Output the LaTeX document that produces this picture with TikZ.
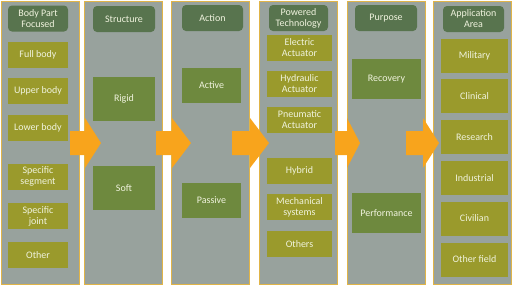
\documentclass[tikz,border=0pt]{standalone}
\usepackage{fontspec}
\setmainfont{Carlito}

\definecolor{panelgrey}{RGB}{152,162,157}
\definecolor{panelline}{RGB}{224,180,72}
\definecolor{headgreen}{RGB}{88,116,78}
\definecolor{itemolive}{RGB}{154,154,44}
\definecolor{itemgreen}{RGB}{110,137,62}
\definecolor{arroworange}{RGB}{248,164,28}
\definecolor{boxtext}{RGB}{240,243,222}

\begin{document}
\begin{tikzpicture}[x=1pt, y=-1pt,
	panel/.style={fill=panelgrey, draw=panelline, line width=1pt, minimum width=78, minimum height=283, inner sep=0pt},
	headbox/.style={fill=headgreen, rounded corners=4pt, minimum height=26, inner sep=0pt, text=boxtext, align=center, font=\fontsize{10}{11}\selectfont},
	olivebox/.style={fill=itemolive, minimum height=26, inner sep=0pt, text=boxtext, align=center, font=\fontsize{10}{11}\selectfont},
	greenbox/.style={fill=itemgreen, inner sep=0pt, text=boxtext, align=center, font=\fontsize{10}{11}\selectfont}]
	\useasboundingbox (0,0) rectangle (513,285);
	\foreach \n/\x in {p1/40, p2/123.5, p3/210.5, p4/298, p5/386.5, p6/472.5} {\node[panel] (\n) at (\x,142.5) {};}
	\node[headbox, minimum width=60] (h1) at (38,18.5) {Body Part\\Focused};
	\node[headbox, minimum width=62] (h2) at (124,19) {Structure};
	\node[headbox, minimum width=61] (h3) at (212.5,18) {Action};
	\node[headbox, minimum width=59] (h4) at (298.5,18) {Powered\\Technology};
	\node[headbox, minimum width=62] (h5) at (386,18) {Purpose};
	\node[headbox, minimum width=61] (h6) at (473.5,19) {Application\\Area};
	\foreach \n/\y/\t in {full/55/Full body, upper/90.5/Upper body, lower/127.5/Lower body, segment/176.5/{Specific\\segment}, joint/216/{Specific\\joint}, other/255/Other}
		{\node[olivebox, minimum width=60] (\n) at (38,\y) {\t};}
	\node[greenbox, minimum width=62, minimum height=44] (rigid) at (124,99) {Rigid};
	\node[greenbox, minimum width=62, minimum height=44] (soft) at (124,188) {Soft};
	\node[greenbox, minimum width=59, minimum height=35] (active) at (211.5,85.5) {Active};
	\node[greenbox, minimum width=59, minimum height=35] (passive) at (211.5,200.5) {Passive};
	\foreach \n/\y/\t in {electric/47.5/{Electric\\Actuator}, hydraulic/84/{Hydraulic\\Actuator}, pneumatic/120/{Pneumatic\\Actuator}, hybrid/170.5/Hybrid, mechanical/207/{Mechanical\\systems}, others/244/Others}
		{\node[olivebox, minimum width=65] (\n) at (299.5,\y) {\t};}
	\node[greenbox, minimum width=69, minimum height=40] (recovery) at (386.5,79) {Recovery};
	\node[greenbox, minimum width=69, minimum height=40] (performance) at (386.5,213) {Performance};
	\foreach \n/\y/\t in {military/55.5/Military, clinical/96/Clinical, research/137/Research, industrial/178/Industrial, civilian/218.5/Civilian, otherfield/259.5/Other field}
		{\node[olivebox, minimum width=67, minimum height=34] (\n) at (474.5,\y) {\t};}
	\foreach \a/\b/\c in {70/85/101, 156/172/191, 232/250/269, 335/347/360, 406/423/439}
		{\fill[arroworange] (\a,131) -- (\b,131) -- (\b,118) -- (\c,143) -- (\b,168) -- (\b,155) -- (\a,155) -- cycle;}
\end{tikzpicture}
\end{document}
